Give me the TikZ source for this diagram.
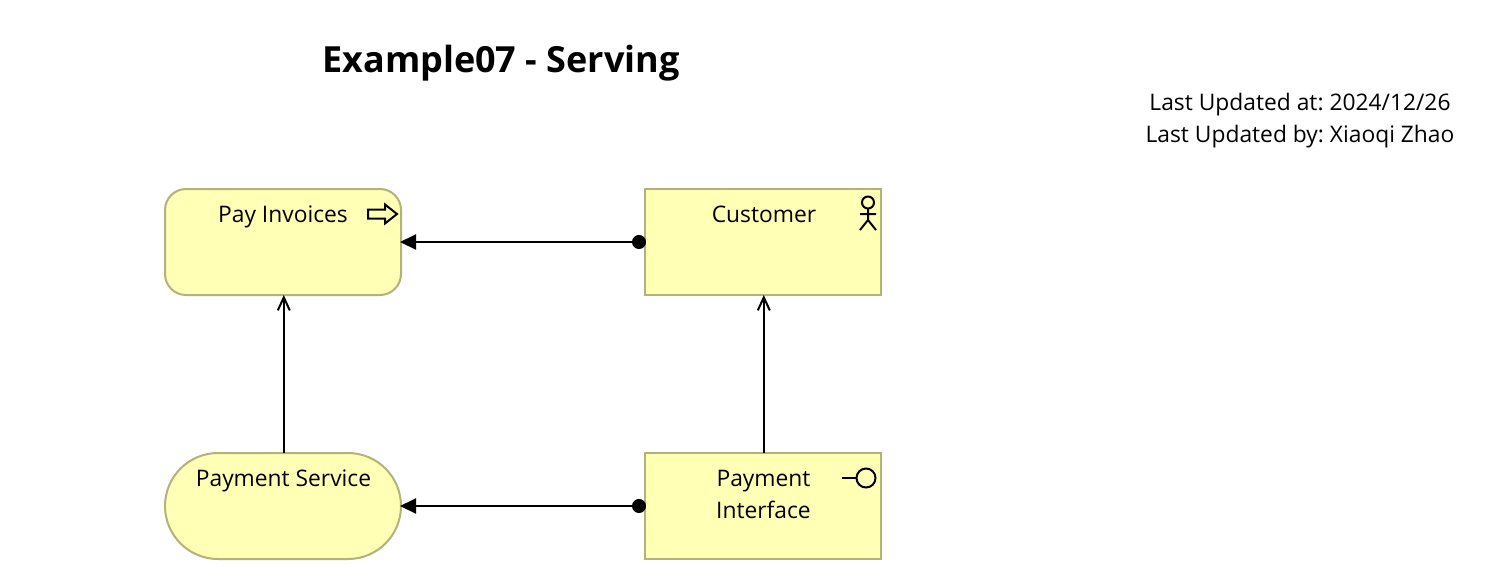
\documentclass[tikz,border=0pt]{standalone}
\usepackage{fontspec}
\setmainfont{Open Sans}
\usepackage{tikz}
\usetikzlibrary{arrows.meta}
\definecolor{elemfill}{HTML}{FFFFB5}
\definecolor{elemline}{HTML}{B2B27A}
\frenchspacing

\begin{document}
\begin{tikzpicture}[x=1pt,y=-1pt]
        \tikzset{element/.style = {shape=rectangle,draw=elemline,fill=elemfill,line width=2pt,minimum width=236pt,minimum height=106pt,inner sep=0pt,outer sep=0pt}}
        \tikzset{elementr/.style = {element,rounded corners=21pt}}
        \tikzset{elements/.style = {element,rounded corners=53pt}}
        \tikzset{elemtext/.style = {inner sep=0pt,align=center,font=\fontsize{22.8}{32}\selectfont}}
        \tikzset{elemline/.style = {elemtext,anchor=base}}
        \tikzset{assign/.style = {{Circle[length=14pt,width=14pt]}-{Triangle[length=16pt,width=15pt]},line width=2pt,shorten <=-1pt,shorten >=-1pt}}
        \tikzset{serving/.style = {-{Straight Barb[length=13pt,width=12pt,line width=2pt]},line width=2pt}}
        \tikzset{icon/.style = {line width=2pt,line join=miter}}
        \useasboundingbox (0,0) rectangle (1506,582);
        % elements
        \node[elementr] (pay) at (283,242) {};
        \node[element] (customer) at (763,242) {};
        \node[elements] (service) at (283,506) {};
        \node[element] (iface) at (763,506) {};

        % texts
        \node[inner sep=0pt,anchor=base,font=\fontsize{36}{40}\selectfont\bfseries] (title) at (501,72) {Example07 - Serving};
        \node[elemtext] (updated) at (1300,121) {Last Updated at: 2024/12/26\\Last Updated by: Xiaoqi Zhao};
        \node[elemline] (paytext) at (283,222) {Pay Invoices};
        \node[elemline] (customertext) at (764,222) {Customer};
        \node[elemline] (servicetext) at (283.5,486) {Payment Service};
        \node[elemtext] (ifacetext) at (763.5,494) {Payment\\Interface};

        %edges
        \draw[assign] (customer.west) to (pay.east);
        \draw[assign] (iface.west) to (service.east);
        \draw[serving] ([xshift=0.8pt]service.north) to ([xshift=0.8pt]pay.south);
        \draw[serving] ([xshift=0.8pt]iface.north) to ([xshift=0.8pt]customer.south);

        %icons
        \draw[icon] (368,209.5) -- (385,209.5) -- (385,204.5) -- (397,214) -- (385,223.5) -- (385,218.5) -- (368,218.5) -- cycle;
        \draw[icon] (868,202.5) circle (6);
        \draw[icon] (868,208.5) -- (868,220) (860,214) -- (876,214) (860,230) -- (868,220) -- (876,230);
        \draw[icon] (866,478) circle (9.5);
        \draw[icon] (842,478) -- (856.5,478);
\end{tikzpicture}
\end{document}
